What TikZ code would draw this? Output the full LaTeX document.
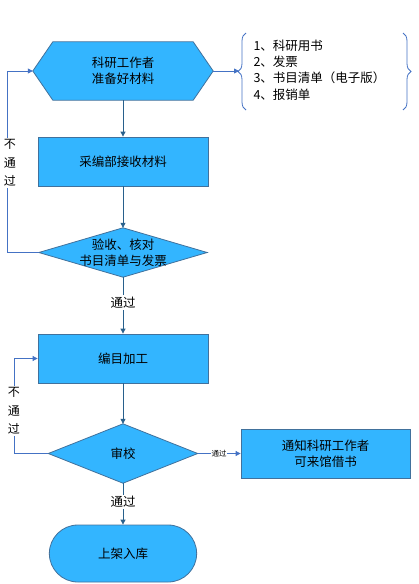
\documentclass[tikz,border=0pt]{standalone}
\usepackage{fontspec}
\setmainfont{Noto Sans CJK SC}
\usetikzlibrary{arrows.meta, calc, shapes.misc, decorations.pathreplacing, backgrounds}
\definecolor{boxfill}{RGB}{51,181,255}
\definecolor{boxline}{RGB}{65,113,156}
\definecolor{downline}{RGB}{40,96,140}
\definecolor{loopline}{RGB}{68,114,196}
\tikzset{
  shapefill/.style={fill=boxfill, draw=boxline, line width=0.8pt},
  procbox/.style={shapefill, rectangle, minimum width=170, minimum height=49, align=center},
  area/.style={rectangle, minimum width=#1, align=center, inner sep=0pt},
  endbox/.style={shapefill, rounded rectangle, minimum width=154, minimum height=57},
  down/.style={draw=downline, line width=0.8pt, -{Triangle[width=5pt,length=5pt]}},
  back/.style={draw=loopline, line width=0.8pt, -{Triangle[width=5pt,length=5pt]}},
  passlabel/.style={fill=white, inner sep=1.5pt}
}
\begin{document}
\begin{tikzpicture}[x=1pt, y=-1pt, font=\fontsize{12.5}{16}\selectfont]
    \useasboundingbox (0,0) rectangle (418,584);

    % Hexagon: preparation
    \node[area=180, minimum height=58] (prep) at (123,71) {科研工作者\\准备好材料};
    \begin{pgfonlayer}{background}
      \draw[shapefill] (prep.west) -- ($(prep.north west)+(20,0)$) -- ($(prep.north east)+(-20,0)$)
        -- (prep.east) -- ($(prep.south east)+(-20,0)$) -- ($(prep.south west)+(20,0)$) -- cycle;
    \end{pgfonlayer}

    % List of materials in braces
    \node[anchor=west, align=left, font=\fontsize{12.5}{16.3}\selectfont] (items) at (250,70)
      {1、科研用书\\2、发票\\3、书目清单（电子版）\\4、报销单};
    \coordinate (brtip) at (239,71);
    \draw[loopline, line width=0.8pt, decorate, decoration={brace, amplitude=8pt}] (246,110) -- (246,33);
    \draw[loopline, line width=0.8pt, decorate, decoration={brace, amplitude=8pt}] (403,33) -- (403,110);
    \draw[back] (prep.east) -- (brtip);

    % Receiving
    \node[procbox] (recv) at (123,161.5) {采编部接收材料};

    % Diamond: check
    \node[area=168, minimum height=49] (chk) at (123,252.5) {验收、核对\\书目清单与发票};
    \begin{pgfonlayer}{background}
      \draw[shapefill] (chk.north) -- (chk.east) -- (chk.south) -- (chk.west) -- cycle;
    \end{pgfonlayer}

    % Cataloguing
    \node[procbox] (cat) at (123,358.5) {编目加工};

    % Diamond: review
    \node[area=149, minimum height=59] (rev) at (123,453.5) {审校};
    \begin{pgfonlayer}{background}
      \draw[shapefill] (rev.north) -- (rev.east) -- (rev.south) -- (rev.west) -- cycle;
    \end{pgfonlayer}

    % Notice
    \node[procbox, minimum width=169] (notice) at (325.5,453.5) {通知科研工作者\\可来馆借书};

    % Shelving
    \node[endbox] (shelf) at (123,553.5) {上架入库};

    % Main flow
    \draw[down] (prep.south) -- (recv.north);
    \draw[down] (recv.south) -- (chk.north);
    \draw[down] (chk.south) -- node[passlabel, pos=0.45] {通过} (cat.north);
    \draw[down] (cat.south) -- (rev.north);
    \draw[down] (rev.south) -- node[passlabel, pos=0.45] {通过} (shelf.north);
    \draw[back] (rev.east) -- node[passlabel, inner sep=0.5pt, font=\fontsize{7.5}{8}\selectfont] {通过} (notice.west);

    % Loops back
    \draw[back] (chk.west) -- ++(-31,0) |- (prep.west);
    \node[passlabel, align=center, font=\fontsize{12}{18.5}\selectfont] (fail1) at (10,163) {不\\通\\过};
    \draw[back] (rev.west) -- ++(-33.5,0) |- (cat.west);
    \node[passlabel, align=center, font=\fontsize{12}{18.5}\selectfont] (fail2) at (14,411) {不\\通\\过};
\end{tikzpicture}
\end{document}
